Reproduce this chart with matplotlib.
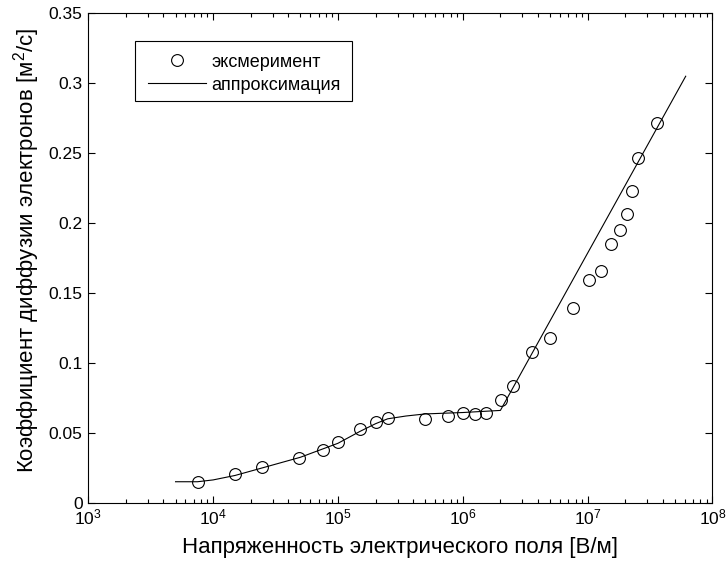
import numpy as np
import matplotlib

matplotlib.use("Agg")
import matplotlib.pyplot as plt
from matplotlib.patches import Rectangle
from matplotlib.ticker import FuncFormatter, LogLocator, MultipleLocator

plt.rcParams["font.family"] = ["Liberation Sans", "DejaVu Sans"]
plt.rcParams["mathtext.fontset"] = "custom"
plt.rcParams["mathtext.rm"] = "Liberation Sans"

# experimental points (field strength V/m, diffusion coefficient m^2/s)
exp_field = [7.5e3, 1.5e4, 2.47e4, 4.9e4, 7.6e4, 1.0e5, 1.51e5, 2.0e5, 2.5e5,
             4.94e5, 7.6e5, 1.0e6, 1.26e6, 1.53e6, 2.03e6, 2.53e6, 3.6e6,
             5.0e6, 7.66e6, 1.02e7, 1.28e7, 1.53e7, 1.80e7, 2.06e7, 2.26e7,
             2.53e7, 3.57e7]
exp_diff = [0.0151, 0.0204, 0.0256, 0.0318, 0.0378, 0.0437, 0.0530, 0.0574,
            0.0605, 0.0602, 0.0622, 0.0645, 0.0634, 0.0645, 0.0736, 0.0832,
            0.1080, 0.1180, 0.1394, 0.1590, 0.1654, 0.1848, 0.1950, 0.2065,
            0.2228, 0.2464, 0.2716]

# approximation curve
fit_field = [5e3, 7.5e3, 1e4, 1.5e4, 2.5e4, 5e4, 1e5, 1.5e5, 2e5, 2.5e5,
             3.5e5, 5e5, 1e6, 2e6, 6.1e7]
fit_diff = [0.0150, 0.0150, 0.0163, 0.0195, 0.0250, 0.0325, 0.0425, 0.0510,
            0.0565, 0.0600, 0.0620, 0.0635, 0.0645, 0.0660, 0.3050]

fig = plt.figure(figsize=(7.26, 5.69), dpi=100)
ax = fig.add_axes([0.1216, 0.1165, 0.8598, 0.8601])

ax.plot(exp_field, exp_diff, "o", mfc="none", mec="black", ms=8.5, mew=0.8,
        label="эксмеримент")
ax.plot(fit_field, fit_diff, "-", color="black", lw=0.8, label="аппроксимация")

ax.set_xscale("log")
ax.set_xlim(1e3, 1e8)
ax.set_ylim(0, 0.35)
ax.yaxis.set_major_locator(MultipleLocator(0.05))
ax.yaxis.set_major_formatter(FuncFormatter(lambda v, _: f"{v:g}"))
ax.xaxis.set_major_locator(LogLocator(base=10, numticks=10))
ax.xaxis.set_minor_locator(LogLocator(base=10, subs=np.arange(2, 10), numticks=10))

ax.tick_params(which="both", direction="in", top=True, right=True,
               labelsize=12.5, color="black")
ax.tick_params(which="major", length=5, width=0.8)
ax.tick_params(which="minor", length=3, width=0.8)
ax.tick_params(axis="x", pad=3.5)
ax.tick_params(axis="y", pad=4)
for s in ax.spines.values():
    s.set_linewidth(0.8)

ax.set_xlabel("Напряженность электрического поля [В/м]", fontsize=16,
              labelpad=7)
ax.set_ylabel("Коэффициент диффузии электронов [м$^2$/с]", fontsize=16,
              labelpad=5)
ax.yaxis.label.set_y(0.516)

leg = ax.legend(loc="upper left",
                bbox_to_anchor=(135 / 726, 1 - 40.7 / 569),
                bbox_transform=fig.transFigure, borderaxespad=0,
                frameon=False, fontsize=13, handlelength=3.2,
                handletextpad=0.3, labelspacing=0.33, borderpad=0.72)

# legend box drawn separately so it keeps the reference's width
fig.add_artist(Rectangle((135 / 726, 1 - 101 / 569), 217 / 726, 60.3 / 569,
                         transform=fig.transFigure, fill=False,
                         edgecolor="black", linewidth=0.8, zorder=5))

fig.savefig("out.png", dpi=100)
